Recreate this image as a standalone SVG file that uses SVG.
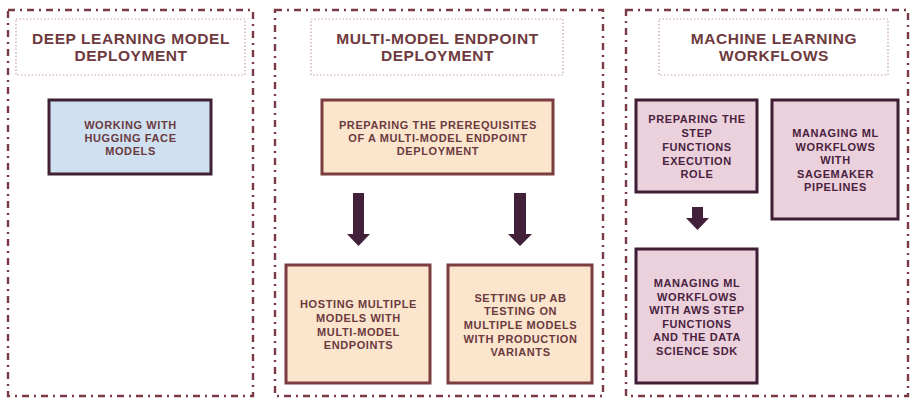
<svg xmlns="http://www.w3.org/2000/svg" width="918" height="407" viewBox="0 0 918 407">
<style>
.panel{fill:none;stroke:#7a3a44;stroke-width:2.4;stroke-dasharray:7 5 2 5}
.tbox{fill:none;stroke:#c79fab;stroke-width:1.2;stroke-dasharray:1.5 2}
.title{font-family:"Liberation Sans",Arial,sans-serif;font-weight:bold;font-size:15.5px;letter-spacing:0.55px;fill:#6e3a3e;text-anchor:middle}
.lbl{font-family:"Liberation Sans",Arial,sans-serif;font-weight:bold;font-size:11px;letter-spacing:0.6px;text-anchor:middle}
.blue rect{fill:#cfe1f0;stroke:#3e2133;stroke-width:3}
.blue text{fill:#6b3a3f}
.peach rect{fill:#fce5cd;stroke:#7b3d3f;stroke-width:3}
.peach text{fill:#6b3a3f}
.pink rect{fill:#ead1dc;stroke:#3f1d35;stroke-width:3}
.pink text{fill:#4a2240}
.arrow{fill:#43203a}
</style>
<g id="panel-dl">
<rect class="panel" x="8" y="10" width="245" height="386"/>
<rect class="tbox" x="16" y="19" width="229" height="56"/>
<text class="title" x="131" y="44">DEEP LEARNING MODEL</text>
<text class="title" x="131" y="61">DEPLOYMENT</text>
</g>
<g id="panel-mme">
<rect class="panel" x="275" y="10" width="328" height="386"/>
<rect class="tbox" x="311" y="19" width="252" height="56"/>
<text class="title" x="437.5" y="44">MULTI-MODEL ENDPOINT</text>
<text class="title" x="437.5" y="61">DEPLOYMENT</text>
</g>
<g id="panel-ml">
<rect class="panel" x="626" y="10" width="282" height="386"/>
<rect class="tbox" x="659" y="19" width="229" height="56"/>
<text class="title" x="774" y="44">MACHINE LEARNING</text>
<text class="title" x="774" y="61">WORKFLOWS</text>
</g>
<g id="node-hf" class="blue">
<rect x="49" y="100" width="162" height="74"/>
<text class="lbl" x="130.5" y="128.5">WORKING WITH</text>
<text class="lbl" x="130.5" y="141.5">HUGGING FACE</text>
<text class="lbl" x="130.5" y="155">MODELS</text>
</g>
<g id="node-prereq" class="peach">
<rect x="322" y="100" width="231" height="74"/>
<text class="lbl" x="438" y="129">PREPARING THE PREREQUISITES</text>
<text class="lbl" x="438" y="142">OF A MULTI-MODEL ENDPOINT</text>
<text class="lbl" x="438" y="155">DEPLOYMENT</text>
</g>
<g id="node-hosting" class="peach">
<rect x="286" y="265" width="144" height="118"/>
<text class="lbl" x="358.5" y="308">HOSTING MULTIPLE</text>
<text class="lbl" x="358.5" y="321.5">MODELS WITH</text>
<text class="lbl" x="358.5" y="335.5">MULTI-MODEL</text>
<text class="lbl" x="358.5" y="349">ENDPOINTS</text>
</g>
<g id="node-ab" class="peach">
<rect x="448" y="265" width="144" height="118"/>
<text class="lbl" x="520.5" y="301.5">SETTING UP AB</text>
<text class="lbl" x="520.5" y="315">TESTING ON</text>
<text class="lbl" x="520.5" y="329">MULTIPLE MODELS</text>
<text class="lbl" x="520.5" y="342.5">WITH PRODUCTION</text>
<text class="lbl" x="520.5" y="356">VARIANTS</text>
</g>
<g id="node-role" class="pink">
<rect x="636" y="100" width="121" height="92"/>
<text class="lbl" x="697" y="123">PREPARING THE</text>
<text class="lbl" x="697" y="137">STEP</text>
<text class="lbl" x="697" y="150.5">FUNCTIONS</text>
<text class="lbl" x="697" y="164.5">EXECUTION</text>
<text class="lbl" x="697" y="177.5">ROLE</text>
</g>
<g id="node-pipelines" class="pink">
<rect x="772" y="100" width="126" height="119"/>
<text class="lbl" x="835.5" y="137">MANAGING ML</text>
<text class="lbl" x="835.5" y="150.5">WORKFLOWS</text>
<text class="lbl" x="835.5" y="164">WITH</text>
<text class="lbl" x="835.5" y="177.5">SAGEMAKER</text>
<text class="lbl" x="835.5" y="190.5">PIPELINES</text>
</g>
<g id="node-stepfn" class="pink">
<rect x="636" y="249" width="121" height="134"/>
<text class="lbl" x="697" y="287">MANAGING ML</text>
<text class="lbl" x="697" y="300.5">WORKFLOWS</text>
<text class="lbl" x="697" y="314">WITH AWS STEP</text>
<text class="lbl" x="697" y="328">FUNCTIONS</text>
<text class="lbl" x="697" y="341">AND THE DATA</text>
<text class="lbl" x="697" y="354.5">SCIENCE SDK</text>
</g>
<g id="connectors">
<polygon class="arrow" points="353,193 364,193 364,234 370,234 358.5,246 347,234 353,234"/>
<polygon class="arrow" points="514,193 526,193 526,234 532,234 520,246 508,234 514,234"/>
<polygon class="arrow" points="692,207 703,207 703,218 709,218 697.5,230 686,218 692,218"/>
</g>
</svg>
